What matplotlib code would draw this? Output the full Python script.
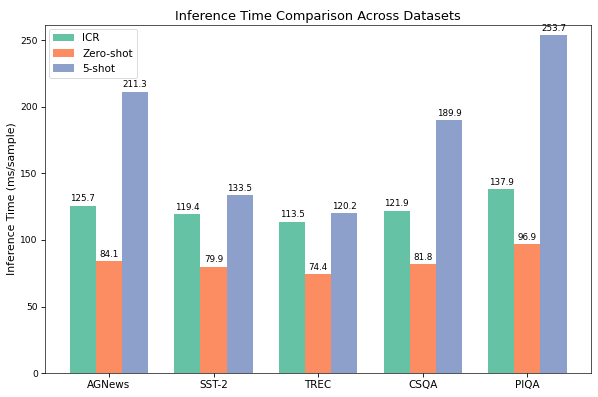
import numpy as np
import matplotlib
matplotlib.use("Agg")
import matplotlib.pyplot as plt

datasets = ["AGNews", "SST-2", "TREC", "CSQA", "PIQA"]
icr = [125.7, 119.4, 113.5, 121.9, 137.9]
zero_shot = [84.1, 79.9, 74.4, 81.8, 96.9]
five_shot = [211.3, 133.5, 120.2, 189.9, 253.7]

series = [("ICR", icr, "#66c2a5"),
          ("Zero-shot", zero_shot, "#fc8d62"),
          ("5-shot", five_shot, "#8da0cb")]

x = np.arange(len(datasets))
w = 0.25

fig, ax = plt.subplots(figsize=(9.967, 6.617), dpi=60)
for i, (label, vals, col) in enumerate(series):
    bars = ax.bar(x + (i - 1) * w, vals, w, label=label, color=col)
    for b, v in zip(bars, vals):
        ax.annotate(f"{v:.1f}", xy=(b.get_x() + b.get_width() / 2, v),
                    xytext=(0, 3), textcoords="offset points",
                    ha="center", va="bottom", fontsize=10.5)

ax.set_xticks(x)
ax.set_xticklabels(datasets, fontsize=12.5)
ax.tick_params(axis="y", labelsize=11)
ax.tick_params(length=5, width=1)
ax.set_ylabel("Inference Time (ms/sample)", fontsize=13)
ax.set_title("Inference Time Comparison Across Datasets", fontsize=15.5)
ax.set_ylim(0, max(five_shot) * 1.03)
ax.legend(loc="upper left", fontsize=12.5, borderaxespad=0.4)

fig.subplots_adjust(left=0.075, right=0.989, bottom=0.06, top=0.937)
fig.savefig("out.png", dpi=60)
